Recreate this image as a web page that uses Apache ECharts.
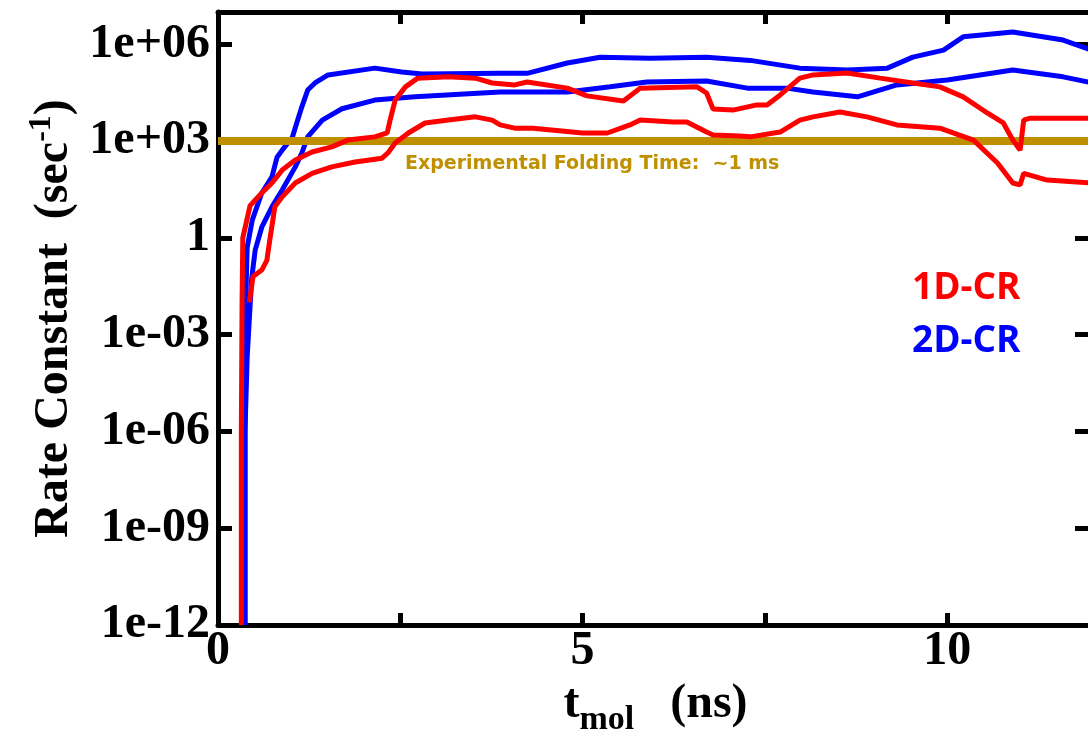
<!DOCTYPE html>
<html><head><meta charset="utf-8">
<script src="https://cdn.jsdelivr.net/npm/echarts@6/dist/echarts.min.js"></script>
<style>html,body{margin:0;padding:0;background:#fff}#c{width:1088px;height:736px}</style>
</head><body><div id="c"></div>
<script>
// time (ns) and log10(rate constant, sec^-1)
const t_1D_a = [0.32,0.32,0.33,0.34,0.44,0.60,0.74,0.88,1.06,1.29,1.56,1.78,2.15,2.32,2.36,2.43,2.57,2.74,3.16,3.53,3.76,4.07,4.24,4.79,5.06,5.56,5.79,6.57,6.70,6.79,7.06,7.39,7.53,7.71,7.98,8.16,8.63,9.08,9.53,9.90,10.22,10.55,10.77,10.90,11.00,11.05,11.14,11.50,12.0];
const logk_1D_a = [-12,-6,-2,0,1.0,1.39,1.7,2.1,2.41,2.66,2.82,3.03,3.13,3.25,3.65,4.27,4.68,4.95,4.99,4.95,4.8,4.74,4.83,4.64,4.4,4.24,4.64,4.68,4.49,3.99,3.96,4.12,4.12,4.43,4.95,5.05,5.11,4.95,4.8,4.68,4.37,3.87,3.56,3.03,2.72,3.65,3.71,3.71,3.71];
const t_1D_b = [0.43,0.48,0.60,0.67,0.71,0.78,0.88,1.06,1.29,1.56,1.88,2.25,2.33,2.43,2.61,2.84,3.16,3.53,3.76,3.87,4.07,4.32,5.0,5.34,5.65,5.79,6.24,6.43,6.70,6.79,7.16,7.30,7.71,7.98,8.16,8.53,8.90,9.31,9.90,10.36,10.69,10.90,11.00,11.05,11.37,12.0];
const logk_1D_b = [-2.0,-1.2,-1.0,-0.7,-0.07,0.96,1.27,1.7,2.0,2.2,2.35,2.47,2.63,2.94,3.25,3.56,3.65,3.75,3.65,3.5,3.4,3.4,3.25,3.25,3.5,3.65,3.59,3.59,3.28,3.19,3.16,3.13,3.28,3.65,3.75,3.9,3.75,3.5,3.4,3.03,2.32,1.7,1.64,2.0,1.79,1.7];
const t_2D_a = [0.37,0.37,0.38,0.40,0.47,0.60,0.74,0.81,0.88,1.02,1.08,1.15,1.23,1.33,1.51,2.15,2.52,2.80,3.87,4.24,4.79,5.24,5.93,6.70,7.30,7.98,8.63,9.18,9.53,9.95,10.22,10.90,11.59,12.0];
const logk_2D_a = [-12,-6,-2,-0.3,0.55,1.39,1.89,2.5,2.72,3.12,3.56,4.06,4.58,4.8,5.05,5.26,5.14,5.08,5.1,5.1,5.42,5.6,5.57,5.6,5.5,5.26,5.2,5.26,5.6,5.82,6.23,6.38,6.13,5.8];
const t_2D_b = [0.37,0.37,0.40,0.46,0.51,0.60,0.74,0.88,1.06,1.15,1.23,1.43,1.70,2.15,2.70,3.87,4.79,5.38,5.88,6.70,7.26,7.80,8.16,8.77,9.31,10.0,10.90,11.59,12.0];
const logk_2D_b = [-12,-6,-3.7,-1.3,-0.38,0.33,0.96,1.48,2.2,2.63,3.13,3.65,4.0,4.27,4.37,4.52,4.52,4.68,4.83,4.86,4.64,4.64,4.52,4.37,4.74,4.89,5.2,4.99,4.8];
const foldingRate = 1e3;           // experimental folding time ~1 ms
const xRange = [0, 12];
const yRange = [1e-12, 1e7];
const xTickLabels = [0, 5, 10];
const labels = { a: '1D-CR', b: '2D-CR', exp: 'Experimental Folding Time:  ~1 ms' };

const pairs = (t, lk) => t.map((x, i) => [x, Math.pow(10, lk[i])]);
const serif = '"Liberation Serif", "Times New Roman", serif';
const sans = '"Open Sans", "Noto Sans", sans-serif';

function yFmt(v) {
  const e = Math.round(Math.log10(v));
  if (e === 0) return '1';
  const a = Math.abs(e);
  return '1e' + (e > 0 ? '+' : '-') + (a < 10 ? '0' + a : a);
}

const chart = echarts.init(document.getElementById('c'), null, { renderer: 'canvas' });
const lineSeries = (name, data, color) => ({
  type: 'line', name, data, showSymbol: false, symbol: 'none', animation: false,
  lineStyle: { color, width: 5 }, itemStyle: { color }, clip: true
});
const axisLine = { show: true, onZero: false, lineStyle: { color: '#000', width: 5 } };
const tick = len => ({ show: true, inside: true, length: len, lineStyle: { color: '#000', width: 5 } });
chart.setOption({
  animation: false,
  backgroundColor: '#fff',
  grid: { left: 218, top: 12, right: -5, bottom: 111, containLabel: false, outerBoundsMode: 'none' },
  xAxis: [
    {
      type: 'value', min: xRange[0], max: xRange[1], interval: 2.5, position: 'bottom',
      axisLine: axisLine, axisTick: tick(12), splitLine: { show: false },
      axisLabel: {
        show: true, margin: 3, color: '#000', fontFamily: serif, fontWeight: 'bold', fontSize: 48,
        showMaxLabel: false,
        formatter: v => xTickLabels.indexOf(v) >= 0 ? String(v) : ''
      },
      name: '{t|t}{sub|mol}{a|   (ns)}', nameLocation: 'middle', nameGap: 43,
      nameTextStyle: {
        rich: {
          t: { fontFamily: serif, fontWeight: 'bold', fontSize: 48, color: '#000' },
          sub: { fontFamily: serif, fontWeight: 'bold', fontSize: 34, color: '#000', padding: [30, 0, 0, 0] },
          a: { fontFamily: serif, fontWeight: 'bold', fontSize: 48, color: '#000' }
        }
      }
    },
    {
      type: 'value', min: xRange[0], max: xRange[1], interval: 2.5, position: 'top',
      axisLine: axisLine, axisTick: tick(12), splitLine: { show: false },
      axisLabel: { show: false }
    }
  ],
  yAxis: [
    {
      type: 'log', logBase: 10, min: yRange[0], max: yRange[1], interval: 3, position: 'left',
      axisLine: axisLine, axisTick: tick(14), splitLine: { show: false },
      axisLabel: {
        show: true, margin: 8, color: '#000', fontFamily: serif, fontWeight: 'bold', fontSize: 48,
        showMaxLabel: false, formatter: yFmt
      },
      name: '{a|Rate Constant  (sec}{s|-1}{a|)}', nameLocation: 'middle', nameRotate: 90, nameGap: 128,
      nameTextStyle: {
        rich: {
          a: { fontFamily: serif, fontWeight: 'bold', fontSize: 48, color: '#000' },
          s: { fontFamily: serif, fontWeight: 'bold', fontSize: 32, color: '#000', padding: [0, 0, 26, 0] }
        }
      }
    },
    {
      type: 'log', logBase: 10, min: yRange[0], max: yRange[1], interval: 3, position: 'right',
      axisLine: axisLine, axisTick: tick(18), splitLine: { show: false },
      axisLabel: { show: false }
    }
  ],
  series: [
    lineSeries(labels.b + ' a', pairs(t_2D_a, logk_2D_a), '#0000ff'),
    lineSeries(labels.b + ' b', pairs(t_2D_b, logk_2D_b), '#0000ff'),
    {
      type: 'line', name: 'exp', data: [[xRange[0], foldingRate], [xRange[1], foldingRate]],
      showSymbol: false, symbol: 'none', lineStyle: { color: '#bf8f00', width: 8 }, animation: false
    },
    lineSeries(labels.a + ' a', pairs(t_1D_a, logk_1D_a), '#ff0000'),
    lineSeries(labels.a + ' b', pairs(t_1D_b, logk_1D_b), '#ff0000')
  ],
  graphic: [
    { type: 'text', left: 405, top: 155, style: { text: labels.exp, fill: '#bf9000', font: 'bold 19px "DejaVu Sans", sans-serif' } },
    { type: 'text', left: 912, top: 270, style: { text: labels.a, fill: '#ff0000', font: 'bold 37px ' + sans } },
    { type: 'text', left: 912, top: 323, style: { text: labels.b, fill: '#0000ff', font: 'bold 37px ' + sans } }
  ]
});
</script>
</body></html>
